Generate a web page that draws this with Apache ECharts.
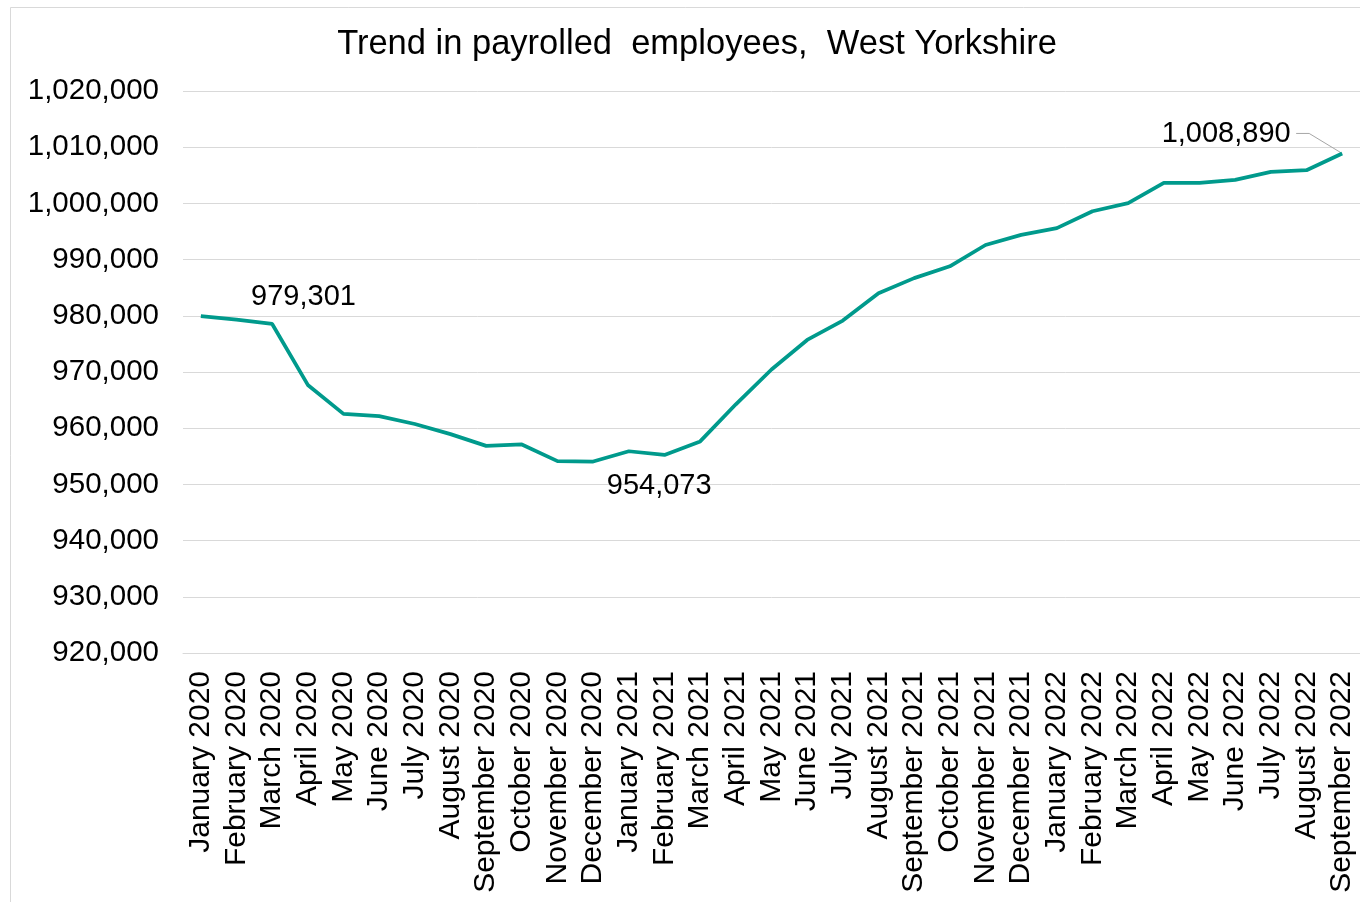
<!DOCTYPE html>
<html>
<head>
<meta charset="utf-8">
<title>Trend in payrolled employees, West Yorkshire</title>
<script src="https://cdn.jsdelivr.net/npm/echarts@6/dist/echarts.min.js"></script>
<style>
  html, body { margin: 0; padding: 0; background: #ffffff; }
  #chart { width: 1360px; height: 902px; }
</style>
</head>
<body>
<div id="chart"></div>
<script>
// Monthly payrolled employees, West Yorkshire (trend)
const months = [
  'January 2020', 'February 2020', 'March 2020', 'April 2020', 'May 2020', 'June 2020',
  'July 2020', 'August 2020', 'September 2020', 'October 2020', 'November 2020', 'December 2020',
  'January 2021', 'February 2021', 'March 2021', 'April 2021', 'May 2021', 'June 2021',
  'July 2021', 'August 2021', 'September 2021', 'October 2021', 'November 2021', 'December 2021',
  'January 2022', 'February 2022', 'March 2022', 'April 2022', 'May 2022', 'June 2022',
  'July 2022', 'August 2022', 'September 2022'
];

const employees = [
  979950, 979301, 978550, 967700, 962550, 962150,
  960750, 958950, 956850, 957100, 954150, 954073,
  955900, 955250, 957650, 964250, 970450, 975700,
  979150, 984000, 986700, 988800, 992600, 994400,
  995600, 998600, 1000050, 1003650, 1003650, 1004200,
  1005600, 1005900, 1008890
];

// Months whose value is written next to the line
const labelledMonths = ['February 2020', 'December 2020', 'September 2022'];
// Month whose label is joined to its point by a leader line
const leaderMonth = 'September 2022';

const yMin = 920000;
const yMax = 1020000;
const yStep = 10000;

const FONT = '"Liberation Sans", Arial, sans-serif';
const fmt = v => v.toLocaleString('en-GB');

// label shifts (px) relative to each labelled point
const labelShift = {
  'February 2020': [67, -23],
  'December 2020': [66, 24],
  'September 2022': [-116, -19]
};

const seriesData = employees.map((v, i) => {
  if (labelledMonths.indexOf(months[i]) === -1) return v;
  return { value: v, label: { show: true } };
});

const chart = echarts.init(document.getElementById('chart'), null, { renderer: 'canvas' });

chart.setOption({
  backgroundColor: '#ffffff',
  animation: false,
  textStyle: { fontFamily: FONT },
  title: {
    text: 'Trend in payrolled  employees,  West Yorkshire',
    left: 697,
    textAlign: 'center',
    top: 27,
    padding: 0,
    textStyle: { fontFamily: FONT, fontSize: 34.5, fontWeight: 'normal', color: '#000000' }
  },
  grid: { left: 183, top: 91, width: 1178, height: 562, containLabel: false },
  xAxis: {
    type: 'category',
    data: months,
    boundaryGap: true,
    axisLine: { show: true, lineStyle: { color: '#d9d9d9', width: 1 } },
    axisTick: { show: false },
    axisLabel: {
      interval: 0,
      rotate: 90,
      margin: 18,
      fontFamily: FONT,
      fontSize: 30,
      color: '#000000'
    }
  },
  yAxis: {
    type: 'value',
    min: yMin,
    max: yMax,
    interval: yStep,
    axisLine: { show: false },
    axisTick: { show: false },
    splitLine: { lineStyle: { color: '#d9d9d9', width: 1 } },
    axisLabel: {
      formatter: v => fmt(v),
      margin: 24,
      fontFamily: FONT,
      fontSize: 29.5,
      color: '#000000'
    }
  },
  series: [{
    type: 'line',
    data: seriesData,
    symbol: 'circle',
    symbolSize: 0,
    showSymbol: true,
    lineStyle: { color: '#009a8c', width: 3.75 },
    itemStyle: { color: '#009a8c' },
    emphasis: { disabled: true },
    label: {
      show: false,
      position: 'inside',
      formatter: p => fmt(p.value),
      fontFamily: FONT,
      fontSize: 29,
      color: '#000000'
    },
    labelLayout: p => {
      const s = labelShift[months[p.dataIndex]];
      return s ? { dx: s[0], dy: s[1] } : {};
    }
  }]
});

// Chart frame and the leader line from the last label to its point
const li = months.indexOf(leaderMonth);
const P = chart.convertToPixel({ seriesIndex: 0 }, [li, employees[li]]);
chart.setOption({
  graphic: [
    {
      type: 'rect',
      shape: { x: 10.5, y: 7.5, width: 1400, height: 1000 },
      style: { fill: 'none', stroke: '#d9d9d9', lineWidth: 1 },
      silent: true,
      z: -10
    },
    {
      type: 'polyline',
      shape: { points: [[P[0] - 46, P[1] - 20], [P[0] - 33, P[1] - 20], [P[0], P[1]]] },
      style: { fill: 'none', stroke: '#a6a6a6', lineWidth: 1 },
      silent: true,
      z: 1
    }
  ]
});
</script>
</body>
</html>
